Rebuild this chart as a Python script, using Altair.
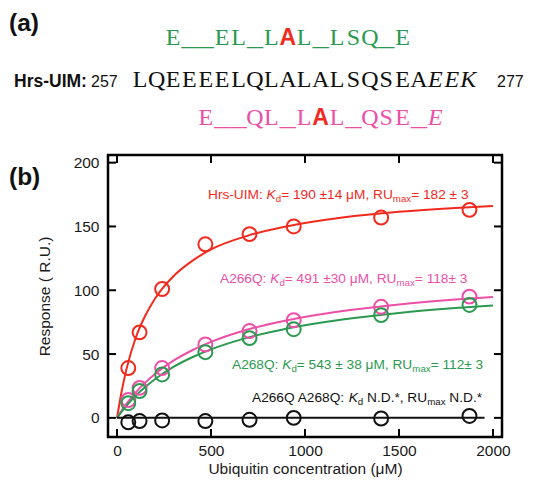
import altair as alt
import pandas as pd

# ---------------- data ----------------
series = ["Hrs-UIM", "A266Q", "A268Q", "A266Q A268Q"]
colors = ["#f22a1e", "#ec4fa6", "#2b9a50", "#111111"]

conc = [60, 120, 240, 470, 705, 940, 1405, 1875]
resp_wt = [39, 67, 101, 136, 144, 150, 157, 163]
resp_a266q = [14, 23.5, 39, 57.5, 68, 76.5, 87, 95]
resp_a268q = [11.5, 21, 34, 51.5, 62.5, 69.5, 80.5, 88.5]
resp_dbl = [-3.5, -2.5, -2, -2.5, -1.5, 0, -0.5, 1.5]

fit_x = [0, 25, 50, 100, 150, 200, 300, 400, 500, 700, 900, 1200, 1500, 1800, 2000]
fit_wt = [0, 21, 38, 63, 80, 93, 111, 123, 132, 143, 150, 157, 161.5, 164.5, 166]
fit_a266q = [0, 5.7, 10.9, 20, 27.6, 34.2, 44.8, 53, 59.5, 69.4, 76.3, 83.7, 88.9, 92.7, 94.7]
fit_a268q = [0, 4.9, 9.4, 17.4, 24.2, 30.1, 39.9, 47.5, 53.7, 63.1, 69.9, 77.1, 82.2, 86, 88.1]
fit_dbl_x = [0, 1955]
fit_dbl = [0, 0]

x_ticks = [0, 500, 1000, 1500, 2000]
y_ticks = [0, 50, 100, 150, 200]

seq_wt = "LQEEEELQLALALSQSEAEEK"
seq_top = "E__EL_LAL_LSQ_E"
seq_bottom = "E__QL_LAL_QSE_E"

annotations = [
    ("Hrs-UIM", [("Hrs-UIM: ", "n"), ("K", "i"), ("d", "s"), ("= 190 \u00b114 \u03bcM, RU", "n"), ("max", "s"), ("= 182 \u00b1 3", "n")]),
    ("A266Q", [("A266Q: ", "n"), ("K", "i"), ("d", "s"), ("= 491 \u00b130 \u03bcM, RU", "n"), ("max", "s"), ("= 118\u00b1 3", "n")]),
    ("A268Q", [("A268Q: ", "n"), ("K", "i"), ("d", "s"), ("= 543 \u00b1 38 \u03bcM, RU", "n"), ("max", "s"), ("= 112\u00b1 3", "n")]),
    ("A266Q A268Q", [("A266Q A268Q: ", "n"), ("K", "i"), ("d", "s"), (" N.D.*, RU", "n"), ("max", "s"), (" N.D.*", "n")]),
]

# ---------------- layout ----------------
PL, PT, W, H = 108, 155, 394, 282
XMIN, XMAX = -48, 2048
YMIN, YMAX = -15, 206
FS = 13.7  # annotation font size
FSS = 9.7  # subscript size


def dxp(px):
    return XMIN + (px - PL) / W * (XMAX - XMIN)


def dyp(py):
    return YMAX - (py - PT) / H * (YMAX - YMIN)


AW = {' ': 278, '(': 333, ')': 333, '*': 389, ',': 278, '-': 333, '.': 278, ':': 278,
      '=': 584, '\u00b1': 549, '\u03bc': 576, 'A': 667, 'D': 722, 'H': 722, 'I': 278,
      'K': 667, 'M': 833, 'N': 722, 'Q': 778, 'R': 722, 'U': 722, 'a': 556, 'd': 556,
      'm': 833, 'r': 333, 's': 500, 'x': 500}


def tw(s, size):
    return sum(AW.get(c, 556) for c in s) / 1000 * size


styles = {
    "ann": dict(font="Liberation Sans", fontSize=FS, align="left", baseline="middle"),
    "ann_i": dict(font="Liberation Sans", fontSize=FS, fontStyle="italic", align="left", baseline="middle"),
    "ann_s": dict(font="Liberation Sans", fontSize=FSS, align="left", baseline="middle"),
    "seq": dict(font="Liberation Serif", fontSize=24, align="center", baseline="alphabetic"),
    "seq_i": dict(font="Liberation Serif", fontSize=24, fontStyle="italic", align="center", baseline="alphabetic"),
    "seq_u": dict(font="Liberation Mono", fontSize=27.4, align="center", baseline="alphabetic"),
    "seq_A": dict(font="Liberation Sans", fontSize=23, fontWeight="bold", align="center", baseline="alphabetic"),
    "panel": dict(font="Liberation Sans", fontSize=24.5, fontWeight="bold", align="left", baseline="alphabetic"),
    "hrs": dict(font="Liberation Sans", fontSize=17.5, fontWeight="bold", align="left", baseline="alphabetic"),
    "num": dict(font="Liberation Sans", fontSize=16, align="left", baseline="alphabetic"),
}

rows = []


def add(style, px, py, text, color):
    rows.append({"style": style, "x": dxp(px), "y": dyp(py), "text": text, "color": color})


# annotations in panel (b)
ann_pos = {"Hrs-UIM": (208, 195), "A266Q": (220, 279), "A268Q": (232, 365), "A266Q A268Q": (252, 398)}
for name, pieces in annotations:
    col = colors[series.index(name)]
    cx, cy = ann_pos[name]
    for txt, kind in pieces:
        size = FSS if kind == "s" else FS
        lead = len(txt) - len(txt.lstrip(" "))
        style = {"n": "ann", "i": "ann_i", "s": "ann_s"}[kind]
        add(style, cx + tw(" " * lead, size), cy + (4 if kind == "s" else 0), txt.strip(" "), col)
        cx += tw(txt, size)

# panel (a) sequences
X0, P = 132, 16.4
red = colors[0]
seq_rows = [
    (seq_top, 2, 45, colors[2], [7], []),
    (seq_wt, 0, 87, "#111111", [], [18, 19, 20]),
    (seq_bottom, 4, 125, colors[1], [7], [14]),
]
for text, start, base, col, reds, itals in seq_rows:
    for i, ch in enumerate(text):
        cxp = X0 + P * (start + i + 0.5)
        if ch == "_":
            add("seq_u", cxp, base, ch, col)
        elif i in reds:
            add("seq_A", cxp, base, ch, red)
        elif i in itals:
            add("seq_i", cxp, base, ch, col)
        else:
            add("seq", cxp, base, ch, col)

add("panel", 9, 31, "(a)", "#111111")
add("panel", 9, 185, "(b)", "#111111")
add("hrs", 14, 87, "Hrs-UIM:", "#111111")
add("num", 91, 87, "257", "#111111")
add("num", 497, 87, "277", "#111111")

labels = pd.DataFrame(rows)

# ---------------- chart ----------------
xenc = alt.X("x:Q", scale=alt.Scale(domain=[XMIN, XMAX], nice=False, zero=False),
             axis=alt.Axis(values=x_ticks, format="d", ticks=False, domain=False, grid=False,
                           labelFont="Liberation Sans", labelFontSize=15.5, labelPadding=6,
                           labelColor="#1a1a1a", labelOverlap=False,
                           title="Ubiquitin concentration (\u03bcM)", titleFont="Liberation Sans",
                           titleFontSize=15.5, titleFontWeight="normal",
                           titleBaseline="alphabetic", titleY=36,
                           titleColor="#1a1a1a"))
yenc = alt.Y("y:Q", scale=alt.Scale(domain=[YMIN, YMAX], nice=False, zero=False),
             axis=alt.Axis(values=y_ticks, format="d", ticks=False, domain=False, grid=False,
                           labelFont="Liberation Sans", labelFontSize=15.5, labelPadding=9,
                           labelColor="#1a1a1a", labelOverlap=False,
                           title="Response ( R.U.)", titleFont="Liberation Sans",
                           titleFontSize=15.5, titleFontWeight="normal", titlePadding=21,
                           titleColor="#1a1a1a"))
cenc = alt.Color("series:N", scale=alt.Scale(domain=series, range=colors), legend=None)

pts = pd.DataFrame({
    "x": conc * 4,
    "y": resp_wt + resp_a266q + resp_a268q + resp_dbl,
    "series": [s for s in series for _ in conc],
})
fits = pd.DataFrame({
    "x": fit_x * 3 + fit_dbl_x,
    "y": fit_wt + fit_a266q + fit_a268q + fit_dbl,
    "series": [s for s in series[:3] for _ in fit_x] + [series[3]] * len(fit_dbl_x),
})

lines = alt.Chart(fits).mark_line(strokeWidth=2, interpolate="monotone").encode(
    x=xenc, y=yenc, color=cenc, detail="series:N")
points = alt.Chart(pts).mark_point(shape="circle", filled=False, size=195, strokeWidth=2, opacity=1).encode(
    x=xenc, y=yenc, color=cenc)

yt = pd.DataFrame({"y": y_ticks})
xt = pd.DataFrame({"x": x_ticks})
tick_l = alt.Chart(yt).mark_rule(color="black", strokeWidth=2).encode(y=yenc, x=alt.value(0), x2=alt.value(8))
tick_r = alt.Chart(yt).mark_rule(color="black", strokeWidth=2).encode(y=yenc, x=alt.value(W - 8), x2=alt.value(W))
tick_t = alt.Chart(xt).mark_rule(color="black", strokeWidth=2).encode(x=xenc, y=alt.value(0), y2=alt.value(8))
tick_b = alt.Chart(xt).mark_rule(color="black", strokeWidth=2).encode(x=xenc, y=alt.value(H - 8), y2=alt.value(H))

text_layers = []
for key, props in styles.items():
    sub = labels[labels["style"] == key]
    if len(sub) == 0:
        continue
    text_layers.append(
        alt.Chart(sub).mark_text(**props).encode(
            x=xenc, y=yenc, text="text:N", color=alt.Color("color:N", scale=None)))

chart = alt.layer(lines, points, tick_l, tick_r, tick_t, tick_b, *text_layers).properties(
    width=W, height=H,
    padding={"left": 100, "top": 147, "right": 27, "bottom": 40},
    autosize=alt.AutoSizeParams(type="none"),
).configure_view(stroke="black", strokeWidth=2.5)

chart.save("out.html", embed_options={"renderer": "svg", "actions": False})
